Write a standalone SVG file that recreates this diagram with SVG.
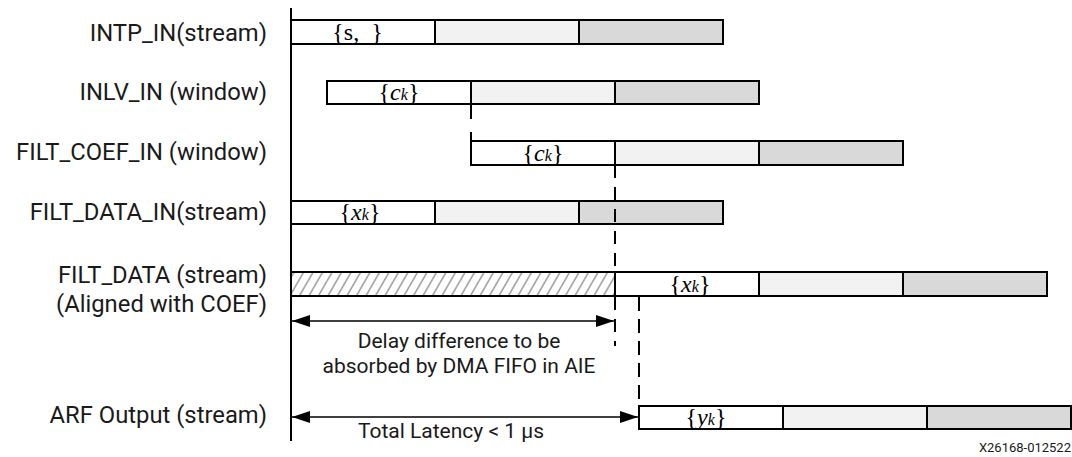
<svg xmlns="http://www.w3.org/2000/svg" width="1072" height="457" viewBox="0 0 1072 457">
<style>
.lbl{font-family:Roboto,"Liberation Sans",sans-serif;font-size:23.8px;fill:#1a1a1a;text-anchor:end}
.note{font-family:Roboto,"Liberation Sans",sans-serif;font-size:21px;fill:#1a1a1a;text-anchor:middle}
.sym{font-family:"Liberation Serif",serif;font-size:24px;fill:#000;text-anchor:middle}
.it{font-style:italic}
.sub{font-style:italic;font-size:16px}
.c1{fill:#ffffff;stroke:#000;stroke-width:2}
.c2{fill:#f2f2f2;stroke:#000;stroke-width:2}
.c3{fill:#d9d9d9;stroke:#000;stroke-width:2}
.ln{stroke:#000;stroke-width:2;fill:none}
.dash{stroke:#000;stroke-width:2;fill:none;stroke-dasharray:13 9}
.arr{stroke:#000;stroke-width:1.5;fill:none;marker-start:url(#ah);marker-end:url(#ah)}
</style>
<defs>
<marker id="ah" viewBox="0 0 18 12" refX="18" refY="6" markerWidth="18" markerHeight="12" markerUnits="userSpaceOnUse" orient="auto-start-reverse">
<path d="M0,0 L18,6 L0,12 Z" fill="#000"/>
</marker>
<pattern id="hatch" patternUnits="userSpaceOnUse" width="9.5" height="10" patternTransform="skewX(-30)">
<rect width="9.5" height="10" fill="#fff"/>
<line x1="4.75" y1="-1" x2="4.75" y2="11" stroke="#a8a8a8" stroke-width="2"/>
</pattern>
</defs>

<g id="axis">
<line class="ln" x1="291" y1="8" x2="291" y2="441"/>
</g>

<g id="labels">
<text class="lbl" x="267" y="40.5">INTP_IN(stream)</text>
<text class="lbl" x="267" y="100">INLV_IN (window)</text>
<text class="lbl" x="267" y="160">FILT_COEF_IN (window)</text>
<text class="lbl" x="267" y="220">FILT_DATA_IN(stream)</text>
<text class="lbl" x="267" y="283">FILT_DATA (stream)</text>
<text class="lbl" x="267" y="312">(Aligned with COEF)</text>
<text class="lbl" x="267" y="423">ARF Output (stream)</text>
</g>

<g id="intp_in">
<rect class="c1" x="291" y="20" width="144" height="24"/>
<rect class="c2" x="435" y="20" width="144" height="24"/>
<rect class="c3" x="579" y="20" width="144" height="24"/>
<text class="sym" x="357.5" y="39.5" xml:space="preserve">{s,  }</text>
</g>

<g id="inlv_in">
<rect class="c1" x="327" y="81" width="144" height="23"/>
<rect class="c2" x="471" y="81" width="144" height="23"/>
<rect class="c3" x="615" y="81" width="144" height="23"/>
<text class="sym" x="399" y="99.5">{<tspan class="it">c</tspan><tspan class="sub">k</tspan>}</text>
</g>

<g id="filt_coef_in">
<rect class="c1" x="471" y="141" width="144" height="24"/>
<rect class="c2" x="615" y="141" width="144" height="24"/>
<rect class="c3" x="759" y="141" width="144" height="24"/>
<text class="sym" x="543" y="160.5">{<tspan class="it">c</tspan><tspan class="sub">k</tspan>}</text>
</g>

<g id="filt_data_in">
<rect class="c1" x="291" y="201" width="144" height="23"/>
<rect class="c2" x="435" y="201" width="144" height="23"/>
<rect class="c3" x="579" y="201" width="144" height="23"/>
<text class="sym" x="360" y="219.5">{<tspan class="it">x</tspan><tspan class="sub">k</tspan>}</text>
</g>

<g id="filt_data">
<rect x="291" y="272" width="324" height="24" fill="url(#hatch)" stroke="#000" stroke-width="2"/>
<rect class="c1" x="615" y="272" width="144" height="24"/>
<rect class="c2" x="759" y="272" width="144" height="24"/>
<rect class="c3" x="903" y="272" width="144" height="24"/>
<text class="sym" x="690" y="291.5">{<tspan class="it">x</tspan><tspan class="sub">k</tspan>}</text>
</g>

<g id="arf_output">
<rect class="c1" x="639" y="406" width="144" height="23"/>
<rect class="c2" x="783" y="406" width="144" height="23"/>
<rect class="c3" x="927" y="406" width="144" height="23"/>
<text class="sym" x="706" y="424.5">{<tspan class="it">y</tspan><tspan class="sub">k</tspan>}</text>
</g>

<g id="connectors">
<path class="ln" d="M471,104 V119 M471,132 V141"/>
<line class="dash" x1="615" y1="165" x2="615" y2="346"/>
<line class="dash" x1="639" y1="297" x2="639" y2="406" style="stroke-dasharray:14 8"/>
<line class="arr" x1="292" y1="321" x2="614" y2="321"/>
<line class="arr" x1="292" y1="417" x2="638" y2="417"/>
</g>

<g id="notes">
<text class="note" x="459" y="347.5">Delay difference to be</text>
<text class="note" x="459" y="372.5">absorbed by DMA FIFO in AIE</text>
<text class="note" x="451" y="438">Total Latency &lt; 1 µs</text>
<text x="1071" y="452" font-family="Roboto,'Liberation Sans',sans-serif" font-size="13" fill="#1a1a1a" text-anchor="end">X26168-012522</text>
</g>
</svg>
